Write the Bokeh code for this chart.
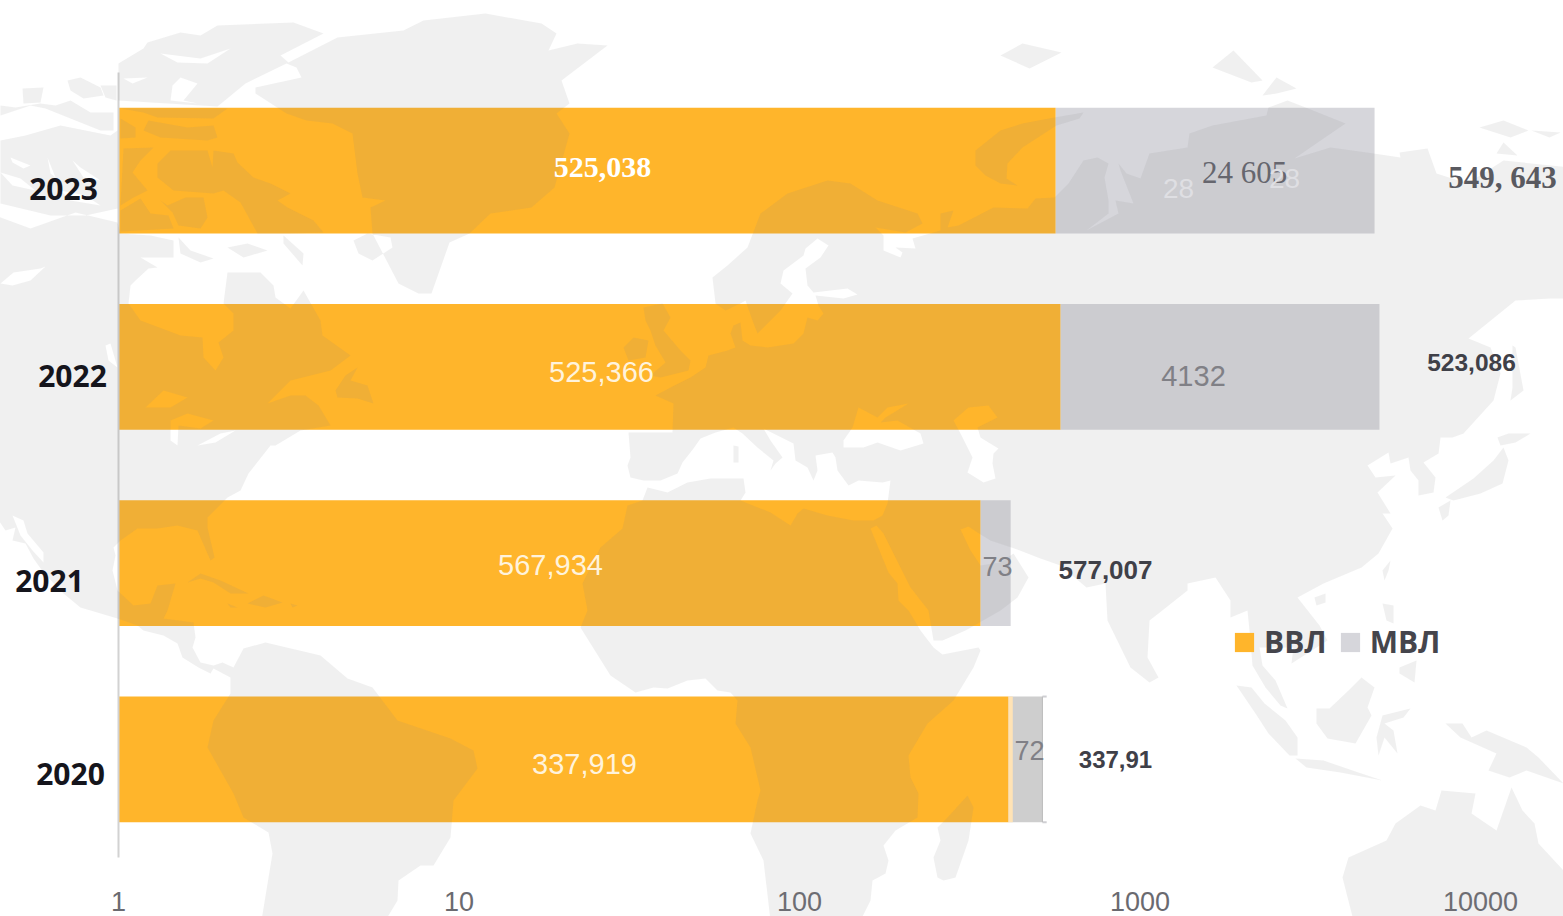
from bokeh.plotting import figure
from bokeh.embed import file_html
from bokeh.resources import INLINE
from bokeh.models import (ColumnDataSource, FixedTicker, Legend, LegendItem,
                          Range1d, LinearScale)

# ---------- chart values ----------
years = ["2020", "2021", "2022", "2023"]
vvl_bar = [411, 340, 584, 565]        # as drawn on the log axis
total_bar = [517, 417, 5050, 4885]
strip_2020 = [411, 423]
cap_2020 = [517, 532]

vvl_text = ["337,919", "567,934", "525,366", "525,038"]
mvl_text = ["72", "73", "4132", "24 605"]
sum_text = ["337,91", "577,007", "523,086", "549, 643"]
ghost_text = ["28", "28"]
tick_values = [1, 10, 100, 1000, 10000]
series_names = ["ВВЛ", "МВЛ"]

# ---------- background world silhouette, traced in page pixels ----------
americas = [(-5,215),(30,228),(75,212),(117,222),(120,233),(150,235),(173,240),(173,257),(140,257),(157,267),
 (148,268),(135,280),(130,285),(128,303),
 (140,320),(180,335),(202,337),(203,357),(215,370),(223,357),(218,342),(233,330),(233,313),(223,303),
 (227,272),(260,272),(273,285),(275,297),(290,308),(303,290),(320,320),(322,335),(350,355),(330,370),
 (290,380),(267,403),(290,395),(305,395),(318,405),(330,425),(300,430),(275,445),(270,445),(248,473),
 (240,490),(227,497),(207,517),(207,527),(214,557),(210,560),(200,537),(197,530),(177,525),(157,528),
 (137,528),(120,540),(113,547),(115,555),(112,570),(117,590),(133,605),(150,603),(157,585),(175,583),
 (167,610),(163,618),(193,622),(195,637),(192,647),(200,662),(213,665),(222,662),(233,667),(243,648),
 (265,642),(320,655),(347,678),(372,687),(397,720),(450,738),(473,750),(477,768),(453,800),(450,837),
 (433,865),(420,865),(398,880),(397,900),(385,920),(261,920),(272,853),(268,832),(243,817),(233,793),
 (207,747),(213,720),(230,693),(230,677),(213,668),(210,673),(198,667),(182,657),(177,643),(163,635),
 (143,630),(137,625),(117,618),(80,607),(63,593),(43,572),(33,558),(25,543),(12,540),(15,527),(5,530),
 (-5,515)]
americas_holes = [
 [(12,515),(23,520),(27,533),(43,552),(43,562),(32,550),(20,535)],
 [(145,407),(163,390),(187,397),(170,407)],
 [(170,420),(187,413),(213,420),(200,428),(178,425),(177,445),(170,440)],
 [(197,445),(220,433),(235,430),(215,442)],
 [(0,283),(13,272),(40,268),(45,266),(30,280),(12,285)],
 [(105,345),(110,343),(117,367),(108,360)],
]
eurasia_africa = [(712,277),(727,265),(747,247),(760,213),(787,193),(827,180),(850,183),(877,200),(917,213),
 (922,223),(905,232),(875,227),(883,235),(883,250),(900,257),(902,252),(895,247),(915,248),(912,238),
 (940,230),(940,213),(953,210),(947,227),(958,225),(993,207),(1027,208),(1035,198),(1054,197),(1068,183),
 (1083,160),(1097,157),(1108,163),(1104,177),(1108,200),(1108,213),(1086,230),(1118,213),(1115,200),
 (1133,203),(1120,170),(1118,163),(1126,173),(1140,178),(1149,153),(1187,147),(1189,133),(1212,125),
 (1266,115),(1268,107),(1287,100),(1305,107),(1345,123),(1323,138),(1294,158),(1330,147),(1373,153),
 (1400,157),(1399,152),(1427,148),(1436,173),(1467,183),(1503,160),(1570,167),(1570,298),(1550,298),
 (1515,300),(1468,338),(1490,347),(1500,373),(1493,400),(1463,433),(1452,437),(1440,437),(1438,453),
 (1423,462),(1435,477),(1433,492),(1418,495),(1418,480),(1410,470),(1408,457),(1390,463),(1388,452),
 (1367,465),(1375,477),(1395,475),(1377,492),(1390,513),(1382,513),(1392,528),(1378,553),(1361,567),
 (1323,583),(1297,597),(1319,625),(1327,640),(1291,663),(1293,647),(1259,647),(1262,665),(1275,680),
 (1287,708),(1280,705),(1265,687),(1252,665),(1250,640),(1247,610),(1230,617),(1230,600),(1215,577),
 (1187,583),(1187,590),(1158,613),(1149,620),(1147,657),(1158,677),(1149,682),(1130,667),(1107,620),
 (1105,583),(1086,587),(1060,565),(1040,558),(1014,548),(990,540),(977,532),(968,526),(960,529),(970,550),
 (980,565),(1000,562),(1013,553),(1028,577),(1017,597),(1000,610),(965,630),(942,640),(933,640),(928,610),
 (910,587),(900,567),(883,533),(876,525),(870,528),(888,572),(897,583),(898,600),(908,610),(920,630),
 (933,647),(942,654),(978,647),(980,650),(973,667),(953,700),(927,723),(908,755),(910,777),(918,793),
 (917,817),(895,830),(883,845),(888,860),(885,873),(872,880),(870,900),(860,920),(770,920),(763,860),
 (750,833),(757,800),(760,790),(750,747),(735,723),(737,700),(730,692),(717,690),(705,678),(687,680),
 (667,688),(653,687),(635,692),(610,675),(580,627),(587,610),(582,583),(600,547),(622,528),(627,505),
 (642,500),(647,487),(667,492),(687,482),(710,478),(743,478),(745,492),(740,500),(770,512),(790,525),
 (797,513),(803,508),(827,515),(853,520),(873,520),(882,515),(887,503),(890,480),(882,482),(858,480),
 (848,485),(837,470),(835,457),(832,452),(815,455),(817,470),(813,480),(807,467),(795,460),(793,443),
 (763,428),(770,440),(782,457),(775,463),(770,470),(773,460),(757,447),(742,433),(733,427),(715,432),
 (700,438),(693,448),(682,462),(677,473),(660,480),(643,480),(630,477),(627,465),(630,457),(628,432),
 (672,432),(673,403),(655,395),(670,387),(690,377),(705,367),(708,355),(727,350),(735,347),(730,333),
 (733,325),(740,322),(742,340),(750,345),(767,347),(793,343),(803,333),(807,317),(817,320),(823,313),
 (818,305),(815,295),(843,298),(857,294),(847,288),(813,292),(807,285),(805,268),(820,257),(828,245),
 (817,238),(805,248),(803,255),(783,270),(780,283),(792,293),(780,310),(757,333),(752,320),(745,300),
 (740,303),(725,310),(715,303)]
eurasia_holes = [
 [(843,440),(852,427),(858,407),(877,417),(887,407),(908,403),(885,417),(880,422),(897,420),(920,433),
  (923,443),(900,450),(877,442),(863,447),(843,447)],
 [(953,420),(968,407),(988,405),(997,417),(977,427),(980,437),(988,442),(998,448),(993,453),(992,463),
  (995,478),(983,482),(967,472),(972,457),(960,433)],
]
ellesmere = [(118,63),(143,48),(147,42),(180,32),(200,35),(217,25),(293,22),(323,33),(280,55),(288,62),(245,83),
 (217,106),(118,100)]
ellesmere_holes = [
 [(160,53),(200,58),(230,48),(207,63),(177,62)],
 [(180,77),(197,83),(183,100),(197,103),(170,100),(172,85)],
 [(123,78),(147,77),(132,83)],
]
arctic_lower = [(0,140),(25,135),(60,125),(110,135),(117,130),(117,208),(85,215),(50,215),(0,203)]
arctic_lower_holes = [
 [(10,157),(30,165),(23,168),(12,162)],
 [(47,157),(55,177),(50,173)],
 [(72,160),(83,177),(100,180),(80,167)],
 [(0,172),(20,178),(35,190),(12,185)],
 [(60,190),(85,195),(100,205),(70,200)],
]
islands = [
 [(286,63),(337,37),(403,30),(423,20),(485,13),(541,23),(556,33),(548,50),(577,43),(607,45),(561,80),(569,103),
  (556,113),(569,133),(554,187),(531,207),(490,213),(469,233),(449,242),(431,293),(418,293),(398,283),(372,233),
  (370,207),(385,200),(362,197),(357,173),(352,133),(332,123),(306,120),(286,113),(255,93),(255,87),(301,77),(296,67)],
 # arctic archipelago
 [(67,80),(80,77),(100,87),(103,95),(83,98),(70,90)],
 [(22,88),(43,87),(40,102),(23,103)],
 [(0,115),(30,105),(45,108),(70,118),(100,130),(113,130),(113,112),(90,112),(70,100),(55,105),(40,103),(15,107),(0,105)],
 [(100,85),(116,85),(116,100),(105,97)],
 [(120,118),(135,127),(135,137),(120,138)],
 [(143,130),(148,120),(187,127),(213,125),(217,137),(207,140),(160,137)],
 [(120,108),(227,108),(213,118),(157,117),(143,112)],
 [(123,148),(153,147),(140,160),(132,172),(147,190),(133,197),(120,205)],
 [(157,163),(170,150),(207,150),(212,167),(213,150),(233,153),(237,162),(253,177),(270,183),(290,193),(277,200),
  (287,207),(313,220),(323,232),(290,233),(257,233),(240,202),(223,190),(213,193),(173,190),(157,177)],
 [(160,200),(167,205),(185,197),(203,197),(207,217),(200,228),(178,225),(172,212)],
 [(120,210),(140,198),(150,213),(168,215),(173,228),(120,231)],
 [(283,235),(303,253),(302,265),(283,243)],
 [(227,247),(247,243),(267,250),(243,257)],
 [(178,237),(190,250),(213,258),(200,262),(180,253)],
 # atlantic side
 [(335,390),(345,375),(357,367),(350,380),(367,385),(373,403),(357,398),(337,397)],
 [(353,240),(367,233),(390,237),(392,247),(372,260),(358,253)],
 # russian arctic
 [(975,150),(1000,130),(1022,123),(1054,117),(1083,112),(1079,118),(1056,125),(1022,147),(1007,163),(1006,178),
  (1017,185),(1000,183),(985,175),(975,165)],
 [(1212,67),(1233,50),(1262,80),(1251,82)],[(1262,95),(1276,77),(1296,88),(1276,93)],
 [(1000,55),(1022,43),(1061,52),(1029,68)],
 [(1479,127),(1503,120),(1528,130),(1510,137)],[(1531,130),(1560,132),(1549,137)],[(1496,153),(1503,142),(1517,155)],
 # europe and africa
 [(643,307),(662,303),(670,317),(663,330),(680,350),(690,360),(688,370),(660,377),(650,375),(665,362),(655,345),(650,330),(645,320)],
 [(623,347),(633,337),(648,340),(645,357),(628,360)],
 [(733,445),(738,446),(738,462),(733,462)],
 [(967,795),(973,807),(968,840),(955,877),(943,880),(937,877),(933,857),(940,840),(937,827),(947,817)],
 # caribbean
 [(187,582),(200,573),(220,580),(248,593),(230,593),(213,582),(200,578)],
 [(247,603),(263,595),(282,602),(265,607)],[(227,603),(237,607),(230,607)],[(290,603),(297,605),(292,607)],
 # asia and oceania
 [(1382,570),(1390,560),(1388,570),(1384,580)],[(1314,597),(1325,593),(1325,602),(1316,605)],
 [(1503,447),(1508,460),(1502,483),(1480,493),(1453,500),(1445,497),(1473,478),(1493,460)],
 [(1497,437),(1508,433),(1530,433),(1515,442),(1500,445)],[(1438,507),(1450,500),(1448,515),(1442,520)],
 [(1512,345),(1515,347),(1523,390),(1510,400),(1512,387)],
 [(1236,685),(1251,687),(1264,703),(1285,720),(1297,737),(1297,755),(1289,755),(1268,733),(1255,713)],
 [(1295,758),(1323,760),(1352,770),(1382,780),(1340,772),(1306,767)],
 [(1361,677),(1374,687),(1367,707),(1371,715),(1355,743),(1327,738),(1316,723),(1316,708),(1329,708),(1348,690)],
 [(1410,708),(1382,715),(1376,737),(1378,755),(1384,737),(1397,753),(1393,730),(1384,723),(1403,717)],
 [(1382,603),(1393,605),(1393,623),(1386,620)],[(1399,667),(1416,660),(1414,682),(1399,673)],
 [(1445,723),(1462,723),(1471,737),(1486,730),(1526,747),(1538,757),(1563,783),(1526,770),(1509,777),(1488,770),(1496,753),(1460,737)],
 [(1441,790),(1475,793),(1471,813),(1496,830),(1511,787),(1522,810),(1534,823),(1538,843),(1563,870),(1570,920),
  (1353,920),(1342,877),(1348,857),(1386,840),(1395,823),(1420,805),(1435,810)],
]
shapes = [[americas] + americas_holes, [eurasia_africa] + eurasia_holes, [ellesmere] + ellesmere_holes,
          [arctic_lower] + arctic_lower_holes] + [[s] for s in islands]
# one multi-polygon: its pieces outside the plot frame are then not culled
map_xs = [[[[pt[0] for pt in ring] for ring in shape] for shape in shapes]]
map_ys = [[[[pt[1] for pt in ring] for ring in shape] for shape in shapes]]

# ---------- layout: page pixels of the plot frame ----------
FRAME_L, FRAME_R, FRAME_T, FRAME_B = 118, 1563, 72, 857
DECADE = 340.5
xmax = 10 ** ((FRAME_R - FRAME_L) / DECADE)
rows = list(range(len(years)))

p = figure(width=1563, height=916, output_backend="svg", toolbar_location=None,
           x_axis_type="log", x_range=Range1d(1, xmax), y_range=Range1d(-0.5, len(years) - 0.5),
           min_border_left=FRAME_L, min_border_right=0, min_border_top=FRAME_T,
           min_border_bottom=916 - FRAME_B, outline_line_color=None, background_fill_color="white")
p.extra_x_ranges["px"] = Range1d(FRAME_L, FRAME_R)
p.extra_y_ranges["px"] = Range1d(FRAME_B, FRAME_T)
p.extra_x_scales["px"] = LinearScale()
p.grid.visible = False

ax = p.xaxis[0]
ax.ticker = FixedTicker(ticks=tick_values)
ax.major_label_overrides = {v: str(v) for v in tick_values}
ax.axis_line_color = None
ax.major_tick_line_color = None
ax.minor_tick_line_color = None
ax.major_label_standoff = 28
ax.major_label_text_font = "Liberation Sans"
ax.major_label_text_font_size = "27px"
ax.major_label_text_color = "#6a6a70"

ay = p.yaxis[0]
ay.ticker = FixedTicker(ticks=[])
ay.axis_line_color = "#d2d2d2"
ay.axis_line_width = 2
ay.major_tick_line_color = None
ay.minor_tick_line_color = None
ay.major_label_text_font_size = "0px"
ay.major_label_standoff = 0

BAR_H = 125.5 / 196
ORANGE = "#FFB52B"
GREYS = ["#CECECE", "#D6D6DB", "#D6D6DB", "#D6D6DB"]

r_mvl = p.hbar(y=rows, left=vvl_bar, right=total_bar, height=BAR_H, fill_color=GREYS, line_color=None)
r_vvl = p.hbar(y=rows, left=[1] * 4, right=vvl_bar, height=BAR_H, fill_color=ORANGE, line_color=None)
p.hbar(y=[rows[0]], left=[strip_2020[0]], right=[strip_2020[1]], height=BAR_H, fill_color="#FFE3B5", line_color=None)
p.segment(x0=[cap_2020[0]] * 2, x1=[cap_2020[1]] * 2, y0=[rows[0] - BAR_H / 2, rows[0] + BAR_H / 2],
          y1=[rows[0] - BAR_H / 2, rows[0] + BAR_H / 2], line_color="#CFCFD3", line_width=2)
p.segment(x0=[cap_2020[0]], x1=[cap_2020[0]], y0=[rows[0] - BAR_H / 2], y1=[rows[0] + BAR_H / 2],
          line_color="#BDBDBD", line_width=1)

# the silhouette lies over the bars, as a faint veil
p.multi_polygons(xs=map_xs, ys=map_ys, x_range_name="px", y_range_name="px", fill_color="#898989",
                 fill_alpha=0.127, line_color=None, level="annotation")

SANS, SERIF, BOLD = "Liberation Sans", "Liberation Serif", "Open Sans"
labels = ColumnDataSource(dict(
    t=list(reversed(years)) + list(reversed(vvl_text)) + list(reversed(mvl_text)) + list(reversed(sum_text)) + ghost_text,
    x=[63, 72, 49, 70, 602, 601, 550, 584, 1244, 1193, 997, 1029, 1502, 1471, 1105, 1115, 1178, 1284],
    y=[188, 375, 580, 773, 167, 371, 564, 763, 172, 375, 566, 750, 177, 362, 569, 759, 188, 178],
    font=[BOLD] * 4 + [SERIF, SANS, SANS, SANS, SERIF, SANS, SANS, SANS, SERIF, SANS, SANS, SANS, SANS, SANS],
    size=["30px"] * 4 + ["30px", "29px", "29px", "29px", "31px", "29px", "27px", "27px", "31px", "24.5px", "26px", "24px", "28px", "28px"],
    style=["bold"] * 4 + ["bold", "normal", "normal", "normal", "normal", "normal", "normal", "normal", "bold", "bold", "bold", "bold", "normal", "normal"],
    color=["#15151c"] * 4 + ["#ffffff", "#fff3dc", "#fff3dc", "#fff3dc", "#66666e", "#808086", "#808086", "#808086",
                             "#5a5a60", "#3f4048", "#3f4048", "#3f4048", "#dfdfe3", "#dfdfe3"],
))
p.text(x="x", y="y", text="t", source=labels, x_range_name="px", y_range_name="px",
       text_font="font", text_font_size="size", text_font_style="style", text_color="color",
       text_align="center", text_baseline="middle", level="overlay")

legend = Legend(items=[LegendItem(label=series_names[0], renderers=[r_vvl]),
                       LegendItem(label=series_names[1], renderers=[r_mvl], index=1)],
                orientation="horizontal", location=(1232 - FRAME_L, FRAME_B - 662),
                background_fill_alpha=0, border_line_color=None, margin=0, padding=0,
                glyph_width=24, glyph_height=24, label_standoff=8, spacing=11,
                label_text_font="Open Sans", label_text_font_size="30px", label_text_font_style="bold",
                label_text_color="#45454c")
p.add_layout(legend, "center")

open("out.html", "w").write(file_html(p, INLINE))
